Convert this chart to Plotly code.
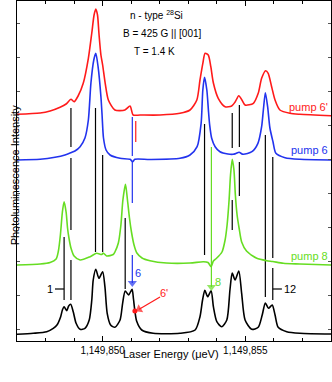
import plotly.graph_objects as go

E0 = 1149847  # ueV; energies below are offsets from this

# spectra (offset in ueV, intensity in arb. units with vertical offsets already in)
red_e = [0.00, 0.81, 1.16, 1.51, 1.72, 1.89, 2.00, 2.14, 2.32, 2.50, 2.62, 2.70, 2.76, 2.82, 2.87, 2.94,
         3.00, 3.09, 3.20, 3.43, 3.78, 3.96, 4.07, 4.31, 5.01, 5.71, 6.06, 6.30, 6.41, 6.51, 6.59, 6.70,
         6.79, 6.88, 7.05, 7.29, 7.52, 7.64, 7.77, 7.88, 7.99, 8.28, 8.45, 8.57, 8.71, 8.80, 8.92, 9.04,
         9.21, 9.56, 9.91, 11.00]
red_i = [226.7, 228, 230, 233.7, 237, 241.7, 239.3, 245, 257.7, 282.7, 308, 326, 332, 326, 307.7, 286,
         276, 257.7, 241, 231, 231, 235, 226, 226, 226, 227.7, 231, 241, 261, 277.7, 287.7, 286,
         274.3, 258, 242.7, 234.3, 235, 239, 245.3, 241, 236, 237.7, 247.7, 262.7, 270.3, 267.7, 254.3, 241,
         231, 227.7, 226.7, 225.3]

blue_e = [0.00, 0.81, 1.33, 1.68, 1.89, 2.03, 2.21, 2.38, 2.50, 2.59, 2.69, 2.76, 2.84, 2.94, 2.98, 3.03,
          3.12, 3.26, 3.61, 3.96, 4.05, 4.13, 4.66, 5.71, 6.06, 6.31, 6.45, 6.51, 6.57, 6.65, 6.71, 6.75,
          6.82, 6.94, 7.11, 7.39, 7.57, 7.67, 7.78, 7.92, 8.23, 8.44, 8.57, 8.63, 8.70, 8.78, 8.86, 8.97,
          9.07, 9.39, 9.91, 11.00]
blue_i = [181, 181.7, 183.7, 186, 188.3, 190, 194.3, 203, 221, 258, 281, 287.7, 274.3, 244.3, 226, 203,
          191, 186, 182.7, 181.7, 179.3, 181.7, 181.5, 182.7, 186, 194.3, 217.7, 251, 263.7, 251, 229, 216,
          202.7, 194.3, 189.3, 187, 186.7, 187.5, 188.7, 186.7, 189.3, 197.7, 214.3, 231, 248.3, 234.3, 213, 199,
          187.7, 183.3, 181.7, 181]

green_e = [0.00, 0.81, 1.16, 1.37, 1.45, 1.52, 1.59, 1.65, 1.72, 1.77, 1.82, 1.89, 2.00, 2.21, 2.56, 2.79,
           2.97, 3.02, 3.14, 3.37, 3.43, 3.55, 3.64, 3.71, 3.80, 3.87, 3.94, 4.01, 4.10, 4.20, 4.38, 4.66,
           5.24, 6.06, 6.53, 6.69, 6.80, 6.88, 6.99, 7.18, 7.29, 7.36, 7.43, 7.48, 7.54, 7.60, 7.65, 7.71,
           7.78, 7.87, 8.04, 8.40, 8.75, 8.96, 9.33, 9.91, 11.00]
green_i = [76, 77, 78.5, 82, 90, 106, 129, 139.3, 129, 113, 103, 93, 85, 81, 84.3, 87.7,
           86.5, 88, 85, 86.5, 89, 98, 116, 141, 156.7, 141, 123, 109, 96, 88, 83, 80.3,
           78, 78, 79.3, 78.5, 74.3, 80, 82.7, 89, 101, 116, 141, 166, 181.7, 171, 146, 126,
           113, 99, 90, 82.7, 80.3, 79.5, 77.7, 77, 76]

black_e = [0.00, 0.57, 1.04, 1.27, 1.40, 1.53, 1.59, 1.65, 1.74, 1.81, 1.88, 1.97, 2.07, 2.21, 2.38, 2.53,
           2.62, 2.67, 2.76, 2.87, 3.00, 3.08, 3.16, 3.28, 3.43, 3.61, 3.70, 3.79, 3.91, 4.03, 4.08, 4.13,
           4.19, 4.37, 4.77, 5.71, 6.24, 6.41, 6.50, 6.58, 6.68, 6.80, 6.88, 7.00, 7.17, 7.35, 7.46, 7.54,
           7.64, 7.77, 7.87, 7.99, 8.22, 8.45, 8.59, 8.70, 8.81, 8.94, 9.04, 9.15, 9.45, 9.91, 11.00]
black_i = [6.7, 7.7, 9.3, 12.7, 16, 24.3, 31, 34.3, 30.3, 35, 36.7, 29.3, 17.7, 11.7, 12.7, 21,
           41, 61, 71.7, 62.7, 69.3, 54.3, 27.7, 16, 13.7, 21, 37.7, 50, 46, 51.7, 42, 30,
           20, 11, 7.7, 7.7, 11, 24.3, 41, 50.7, 44.3, 50.3, 34.3, 19.3, 14.3, 21, 51, 68,
           61, 70, 47.7, 21, 11.7, 13.7, 26, 38, 32.7, 36, 26, 13.7, 9.3, 7.7, 7]

# transition markers: (energy offset, top, bottom)
black_marks = [(1.65, 104, 41), (1.89, 233, 194), (1.89, 183, 111), (1.89, 81, 41),
               (2.75, 233, 89), (3.00, 186, 89), (3.79, 123, 52), (6.57, 217, 86),
               (7.54, 228, 193), (7.54, 141, 111), (7.79, 236, 194), (7.79, 179, 145),
               (8.70, 206, 44), (8.96, 184, 83), (8.96, 73, 41)]
blue_marks = [(4.04, 224, 185), (4.04, 179, 138)]
red_marks = [(4.16, 220, 199)]
green_marks = [(6.81, 194, 79)]

# pumped lines: (label, tail e, tail i, head e, head i, text e, text i)
blue_arrow = ("6", 4.04, 86, 4.04, 58, 4.24, 68)
green_arrow = ("8", 6.81, 79, 6.81, 54, 7.04, 59.3)
red_arrow = ("6'", 5.01, 44, 4.28, 31.7, 5.16, 48.3)
red_dot = (4.13, 30)

# line numbering ticks: (label, text e, tick from, tick to, level)
num_ticks = [("1", 1.16, 1.33, 1.65, 52), ("12", 9.58, 8.96, 9.28, 52)]

spec_labels = [("pump 6'", 234), ("pump 6", 191), ("pump 8", 85.3)]
info_lines = [("n - type <sup>28</sup>Si", 4.90, 326), ("B = 425 G || [001]", 5.08, 308),
              ("T = 1.4 K", 4.83, 290)]

RED, BLUE, GREEN = "#ff1a1a", "#2233ee", "#66dd22"
FONT = "Liberation Sans, Arial, sans-serif"


def seg_xy(marks):
    xs, ys = [], []
    for e, top, bot in marks:
        xs += [E0 + e, E0 + e, None]
        ys += [top, bot, None]
    return xs, ys


fig = go.Figure()

for marks, col in [(black_marks, "black"), (blue_marks, BLUE), (red_marks, RED), (green_marks, GREEN)]:
    xs, ys = seg_xy(marks)
    fig.add_trace(go.Scatter(x=xs, y=ys, mode="lines", line=dict(color=col, width=1.2),
                             hoverinfo="skip"))

for lab, te, t0, t1, lvl in num_ticks:
    fig.add_trace(go.Scatter(x=[E0 + t0, E0 + t1], y=[lvl, lvl], mode="lines",
                             line=dict(color="black", width=1.2)))

for e, i, col in [(black_e, black_i, "black"), (green_e, green_i, GREEN),
                  (blue_e, blue_i, BLUE), (red_e, red_i, RED)]:
    fig.add_trace(go.Scatter(x=[E0 + v for v in e], y=i, mode="lines",
                             line=dict(color=col, width=1.6, shape="spline", smoothing=0.7)))

fig.add_trace(go.Scatter(x=[E0 + red_dot[0]], y=[red_dot[1]], mode="markers",
                         marker=dict(color=RED, size=5)))

ann = []
# arrows: shaft line plus a triangle head turned along the shaft
for (lab, te, ti, he, hi, xe, xi), col in [(blue_arrow, BLUE), (green_arrow, GREEN), (red_arrow, RED)]:
    fig.add_trace(go.Scatter(x=[E0 + te, E0 + he], y=[ti, hi], mode="lines",
                             line=dict(color=col, width=1.2)))
    fig.add_trace(go.Scatter(x=[E0 + te, E0 + he], y=[ti, hi], mode="markers",
                             marker=dict(symbol="triangle-up", size=[0, 8], color=col,
                                         angleref="previous", line=dict(width=0))))
    ann.append(dict(x=E0 + xe, y=xi, xref="x", yref="y", text=lab, showarrow=False,
                    font=dict(color=col, size=11)))

for lab, te, t0, t1, lvl in num_ticks:
    ann.append(dict(x=E0 + te, y=lvl, xref="x", yref="y", text=lab, showarrow=False,
                    font=dict(size=11)))

for (lab, lvl), col in zip(spec_labels, [RED, BLUE, GREEN]):
    ann.append(dict(x=E0 + 10.98, y=lvl, xref="x", yref="y", text=lab, showarrow=False,
                    xanchor="right", font=dict(color=col, size=11)))

for txt, e, lvl in info_lines:
    ann.append(dict(x=E0 + e, y=lvl, xref="x", yref="y", text=txt, showarrow=False,
                    font=dict(size=10)))

ann.append(dict(x=0.49, y=-0.062, xref="paper", yref="paper", text="Laser Energy (\u03bceV)",
                showarrow=False, font=dict(size=11)))
ann.append(dict(x=-0.032, y=0.49, xref="paper", yref="paper", text="Photoluminescence Intensity",
                textangle=-90, showarrow=False, font=dict(size=11)))

fig.update_layout(
    width=332, height=382,
    margin=dict(l=17, r=1, t=1, b=41),
    paper_bgcolor="white", plot_bgcolor="white",
    showlegend=False,
    font=dict(family=FONT, size=10, color="black"),
    annotations=ann,
)
fig.update_xaxes(range=[E0, E0 + 11], tick0=1149850, dtick=5, tickformat=",d",
                 ticks="inside", ticklen=5, tickcolor="black", showline=True, linecolor="black",
                 linewidth=1, mirror="ticks", showgrid=False, zeroline=False,
                 minor=dict(ticks="inside", dtick=1, ticklen=3, tickcolor="black"),
                 tickfont=dict(size=10))
fig.update_yaxes(range=[0, 340], tick0=318, dtick=34, ticks="inside", ticklen=3,
                 tickcolor="#555", showticklabels=False, showline=True, linecolor="black",
                 linewidth=1, mirror="ticks", showgrid=False, zeroline=False)

# page margin off so the 332x382 figure fills the window exactly
fig.write_html("out.html", config=dict(displayModeBar=False),
               post_script="document.body.style.margin='0';")
